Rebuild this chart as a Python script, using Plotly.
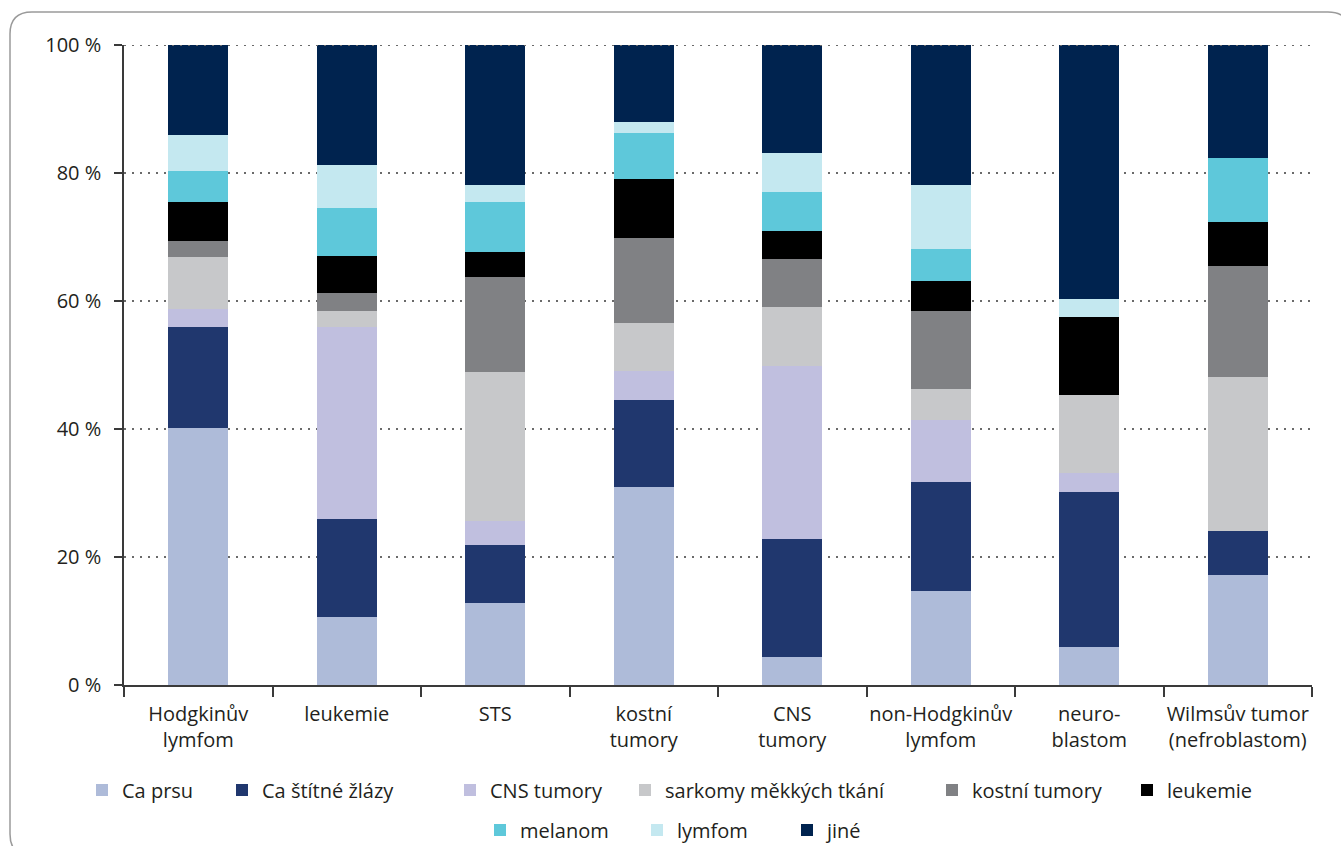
import plotly.graph_objects as go

# Diagnosis groups (x categories)
categories = [
    "Hodgkinův<br>lymfom",
    "leukemie",
    "STS",
    "kostní<br>tumory",
    "CNS<br>tumory",
    "non-Hodgkinův<br>lymfom",
    "neuro-<br>blastom",
    "Wilmsův tumor<br>(nefroblastom)",
]

# Share (%) of each second malignancy within a diagnosis group
ca_prsu = [40.1, 10.6, 12.8, 31.0, 4.4, 14.7, 6.0, 17.2]
ca_stitne_zlazy = [15.8, 15.3, 9.0, 13.6, 18.4, 17.0, 24.1, 6.8]
cns_tumory = [2.8, 30.0, 3.8, 4.4, 27.0, 9.7, 3.1, 0.0]
sarkomy = [8.1, 2.5, 23.3, 7.5, 9.2, 4.8, 12.1, 24.1]
kostni_tumory = [2.5, 2.8, 14.9, 13.4, 7.5, 12.2, 0.0, 17.3]
leukemie = [6.1, 5.9, 3.9, 9.1, 4.4, 4.8, 12.2, 6.9]
melanom = [4.9, 7.4, 7.7, 7.3, 6.1, 4.9, 0.0, 10.1]
lymfom = [5.7, 6.7, 2.7, 1.6, 6.1, 10.0, 2.8, 0.0]
jine = [14.0, 18.8, 21.9, 12.1, 16.9, 21.9, 39.7, 17.6]

y_ticks = [0, 20, 40, 60, 80, 100]
y_tick_labels = ["0 %", "20 %", "40 %", "60 %", "80 %", "100 %"]

series_names = [
    "Ca prsu", "Ca štítné žlázy", "CNS tumory", "sarkomy měkkých tkání",
    "kostní tumory", "leukemie", "melanom", "lymfom", "jiné",
]
series_values = [
    ca_prsu, ca_stitne_zlazy, cns_tumory, sarkomy, kostni_tumory,
    leukemie, melanom, lymfom, jine,
]
series_colors = [
    "#AEBBD9", "#20376E", "#C0BFDF", "#C7C8CA", "#808184",
    "#000000", "#5EC8DA", "#C4E8F0", "#00234F",
]

W, H = 1341, 846
ML, MR, MT, MB = 124, 29, 45, 161
TEXT = "#231F20"
FONT = "Open Sans"
FS = 20

# legend entry placement (left edge of swatch, vertical centre), in pixels
legend_px = [
    (97, 790), (237, 790), (465, 790), (640, 790), (947, 790), (1142, 790),
    (495, 830), (652, 830), (802, 830),
]
SWATCH_OFFSET = 15

fig = go.Figure()
layout_legends = {}
for i, (name, vals, col) in enumerate(zip(series_names, series_values, series_colors)):
    lid = "legend" if i == 0 else f"legend{i + 1}"
    fig.add_trace(go.Bar(
        x=categories, y=vals, name=name,
        marker=dict(color=col, line=dict(width=0)),
        legend=lid,
    ))
    lx, ly = legend_px[i]
    layout_legends[lid] = dict(
        orientation="h",
        xref="container", yref="container",
        x=(lx - SWATCH_OFFSET) / W, xanchor="left",
        y=1 - ly / H, yanchor="middle",
        font=dict(family=FONT, size=FS, color=TEXT),
        bgcolor="rgba(0,0,0,0)", borderwidth=0,
    )

plot_w = W - ML - MR
plot_h = H - MT - MB


def px_x(p):
    return (p - ML) / plot_w


def px_y(p):
    return (H - MB - p) / plot_h


# rounded frame around the whole graphic
x0, y0, x1, y1, r = 10, 12, 1350, 856, 22
rx, ry = r / plot_w, r / plot_h
X0, X1, Y0, Y1 = px_x(x0), px_x(x1), px_y(y0), px_y(y1)
frame_path = (
    f"M {X0 + rx},{Y0} L {X1 - rx},{Y0} Q {X1},{Y0} {X1},{Y0 - ry} "
    f"L {X1},{Y1 + ry} Q {X1},{Y1} {X1 - rx},{Y1} "
    f"L {X0 + rx},{Y1} Q {X0},{Y1} {X0},{Y1 + ry} "
    f"L {X0},{Y0 - ry} Q {X0},{Y0} {X0 + rx},{Y0} Z"
)

GRID = dict(color="#6A6A6A", width=1.8, dash="2px,6px")

fig.update_layout(
    width=W, height=H,
    margin=dict(l=ML, r=MR, t=MT, b=MB, autoexpand=False),
    paper_bgcolor="white", plot_bgcolor="white",
    barmode="stack", bargap=0.596,
    font=dict(family=FONT, size=FS, color=TEXT),
    showlegend=True,
    shapes=[
        dict(type="path", xref="paper", yref="paper", path=frame_path,
             line=dict(color="#9A9A9A", width=1.5), layer="below"),
        # dotted line along the 100 % level
        dict(type="line", xref="paper", yref="y", x0=0, x1=1, y0=100, y1=100,
             line=GRID, layer="above"),
    ],
    **layout_legends,
)

fig.update_xaxes(
    showline=True, linecolor="#3A3A3A", linewidth=2,
    ticks="outside", tickson="boundaries", ticklen=10, tickwidth=1.5, tickcolor="#3A3A3A",
    tickangle=0, ticklabelstandoff=10,
    tickfont=dict(family=FONT, size=FS, color=TEXT),
    showgrid=False, automargin=False,
)
fig.update_yaxes(
    range=[0, 100], tickmode="array", tickvals=y_ticks, ticktext=y_tick_labels,
    showline=True, linecolor="#3A3A3A", linewidth=1.5,
    ticks="outside", ticklen=8, tickwidth=1.5, tickcolor="#3A3A3A",
    ticklabelstandoff=9,
    tickfont=dict(family=FONT, size=FS, color=TEXT),
    showgrid=True, gridcolor=GRID["color"], gridwidth=GRID["width"], griddash=GRID["dash"],
    zeroline=False, automargin=False,
)

fig.write_html("out.html")
